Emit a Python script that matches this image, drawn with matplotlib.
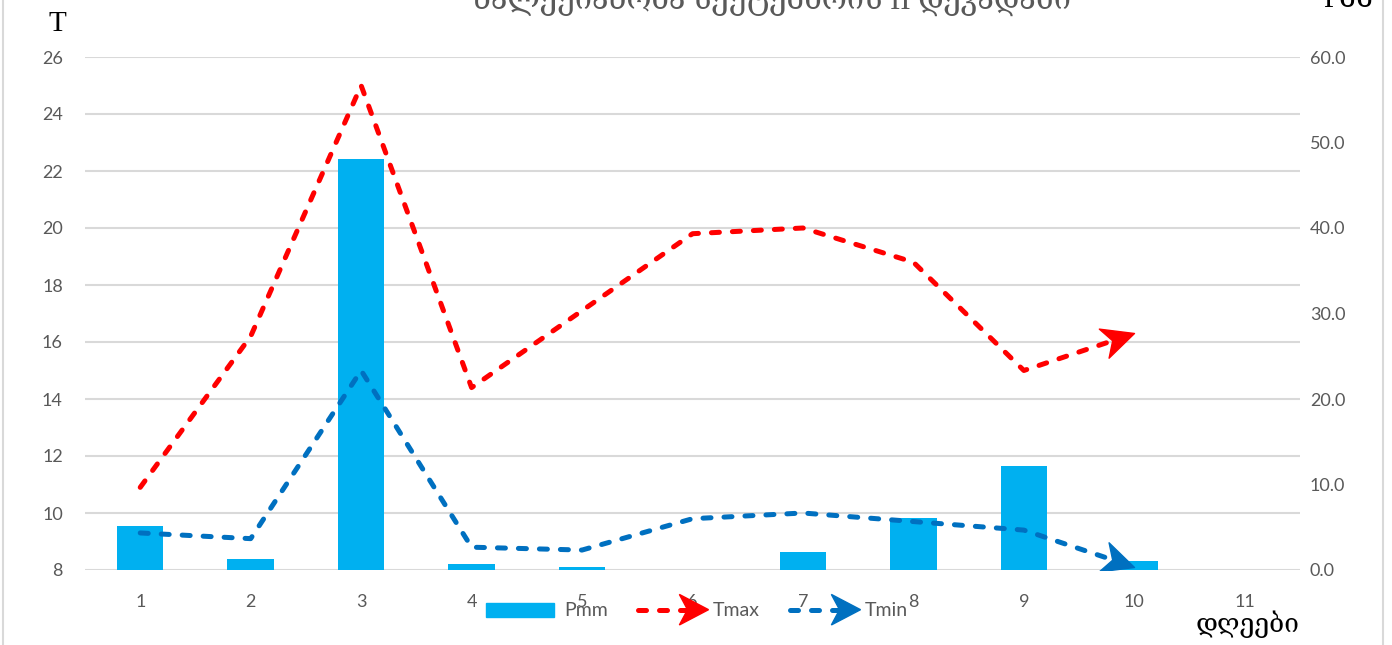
import matplotlib
matplotlib.use("Agg")
import matplotlib.pyplot as plt
import numpy as np
from matplotlib.lines import Line2D
from matplotlib.patches import Patch, Polygon, Rectangle
from matplotlib.markers import MarkerStyle
from matplotlib.path import Path
from matplotlib.transforms import Affine2D
from matplotlib.legend_handler import HandlerBase

# ==== data ====
days = [1, 2, 3, 4, 5, 6, 7, 8, 9, 10, 11]
pmm = [5.2, 1.3, 48.1, 0.7, 0.3, 0.0, 2.1, 6.1, 12.2, 1.0, 0.0]
tmax = [10.9, 16.2, 25.0, 14.4, 17.1, 19.8, 20.0, 18.8, 15.0, 16.3]
tmin = [9.3, 9.1, 15.0, 8.8, 8.7, 9.8, 10.0, 9.7, 9.4, 8.1]
t_ticks = [8, 10, 12, 14, 16, 18, 20, 22, 24, 26]
p_ticks = [0, 10, 20, 30, 40, 50, 60]

title = "ნალექიანობა სექტემბრის II დეკადაში"

c_bar = "#00B0F0"
c_max = "#FF0000"
c_min = "#0070C0"
c_txt = "#595959"
c_grid = "#D9D9D9"

sans = ["Lato", "DejaVu Sans"]
serif = ["Liberation Serif", "DejaVu Serif"]
plt.rcParams["font.family"] = sans

# stealth arrow head (tip at origin, pointing +x)
stealth = Path([(0, 0), (-1, 0.48), (-0.72, 0), (-1, -0.48), (0, 0)],
               [Path.MOVETO, Path.LINETO, Path.LINETO, Path.LINETO, Path.CLOSEPOLY])

fig = plt.figure(figsize=(13.92, 6.45), dpi=100)
ax = fig.add_axes([85 / 1392, 1 - 570 / 645, 1215 / 1392, 513 / 645])
ax2 = ax.twinx()

ax.set_xlim(0.5, 11.5)
ax.set_ylim(8, 26)
ax2.set_ylim(0, 60)

ax.set_yticks(t_ticks)
ax.set_yticklabels([str(t) for t in t_ticks])
ax2.set_yticks(p_ticks)
ax2.set_yticklabels([f"{p:.1f}" for p in p_ticks])
ax.set_xticks(days)
ax.set_xticklabels([str(d) for d in days])

ax.grid(axis="y", color=c_grid, lw=1.5)
ax.set_axisbelow(True)
for a in (ax, ax2):
    for s in a.spines.values():
        s.set_visible(False)
ax.tick_params(axis="y", length=0, pad=16, labelsize=13, labelcolor=c_txt)
ax.tick_params(axis="x", length=0, pad=17, labelsize=13, labelcolor=c_txt)
ax2.tick_params(axis="y", length=0, pad=7, labelsize=13, labelcolor=c_txt)

# bars on right axis
ax2.bar(days, pmm, width=0.42, color=c_bar, zorder=2)

# lines (left-axis units) drawn on top of bars
dash = (0, (1.6, 2.6))
for vals, col in ((tmax, c_max), (tmin, c_min)):
    xs = days[:len(vals)]
    ax2.plot(xs, vals, color=col, lw=3.6, ls=dash, dash_capstyle="round",
             transform=ax.transData, zorder=3)
    p0 = ax.transData.transform((xs[-2], vals[-2]))
    p1 = ax.transData.transform((xs[-1], vals[-1]))
    ang = np.degrees(np.arctan2(p1[1] - p0[1], p1[0] - p0[0]))
    m = MarkerStyle(stealth, transform=Affine2D().rotate_deg(ang))
    ax2.plot([xs[-1]], [vals[-1]], marker=m, ms=46, color=col, mec=col,
             ls="none", transform=ax.transData, zorder=4)


class ArrowHandler(HandlerBase):
    def create_artists(self, legend, orig, xd, yd, w, h, fontsize, trans):
        col = orig.get_color()
        y = h / 2 - yd
        x0 = -xd
        x1 = -xd + w + 4
        ln = Line2D([x0 + 2, x1 - 14], [y, y], color=col, lw=3.6, ls=dash,
                    dash_capstyle="round", transform=trans)
        L, W = 21, 11
        head = Polygon([(x1, y), (x1 - L, y + W), (x1 - 0.72 * L, y),
                        (x1 - L, y - W)], closed=True, color=col, transform=trans)
        return [ln, head]


handles = [Patch(color=c_bar),
           Line2D([], [], color=c_max),
           Line2D([], [], color=c_min)]
fig.legend(handles, ["Pmm", "Tmax", "Tmin"], loc="center",
           bbox_to_anchor=(697 / 1392, 1 - 611 / 645), ncol=3, frameon=False,
           fontsize=14, labelcolor=c_txt, handlelength=3.5, handletextpad=0.5,
           columnspacing=1.4,
           handler_map={handles[1]: ArrowHandler(), handles[2]: ArrowHandler()})

# titles / axis captions (title sits partly above the top edge, as in the source)
fig.text(772 / 1392, 1 - 9 / 645, title, ha="center", va="baseline",
         fontsize=22, color=c_txt, family=serif)
fig.text(57 / 1392, 1 - 31 / 645, "T", ha="center", va="baseline",
         fontsize=21, color="black", family=serif)
fig.text(1323 / 1392, 1 - 7 / 645, "Pმმ", ha="left", va="baseline",
         fontsize=21, color="black", family=serif)
fig.text(1248 / 1392, 1 - 624 / 645, "დღეები", ha="center", va="center",
         fontsize=19, color="black", family=serif)

# chart-area border
fig.patches.append(Rectangle((3 / 1392, -0.05), 1380 / 1392, 1.1,
                             transform=fig.transFigure, fill=False,
                             ec=c_grid, lw=1.5))

fig.savefig("out.png", dpi=100)
